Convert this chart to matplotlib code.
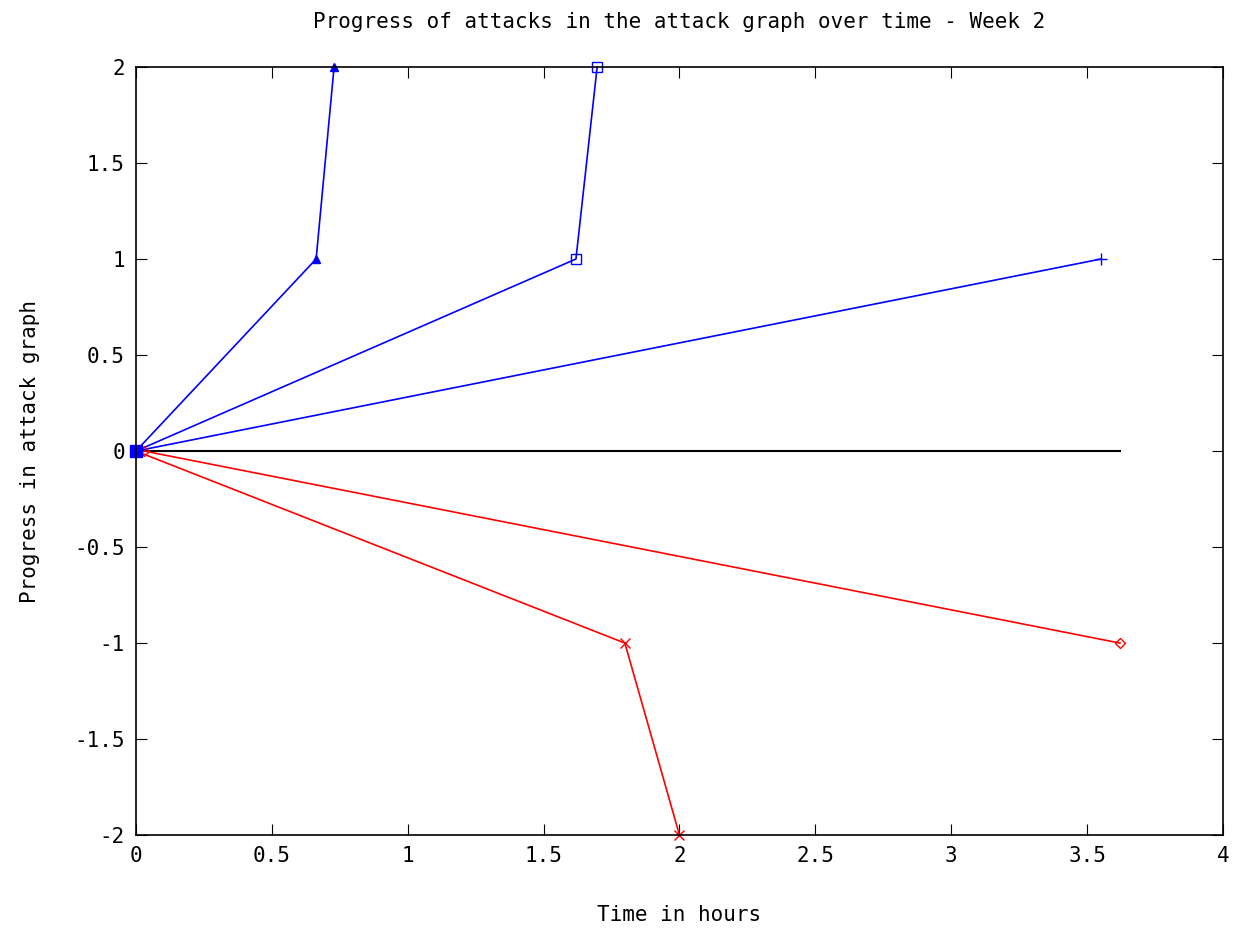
import matplotlib
matplotlib.use("Agg")
import matplotlib.pyplot as plt

plt.rcParams['font.family'] = ['DejaVu Sans Mono']

# Series (time in hours, progress in attack graph)
blue_tri_x = [0.0, 0.663, 0.729]
blue_tri_y = [0, 1, 2]
blue_sq_x = [0.0, 1.619, 1.697]
blue_sq_y = [0, 1, 2]
blue_plus_x = [0.0, 3.551]
blue_plus_y = [0, 1]
black_x = [0.0, 3.621]
black_y = [0, 0]
red_dia_x = [0.03, 3.621]
red_dia_y = [0, -1]
red_x_x = [0.0, 1.799, 2.0]
red_x_y = [0, -1, -2]

xticks = [0, 0.5, 1, 1.5, 2, 2.5, 3, 3.5, 4]
xtick_labels = ['0', '0.5', '1', '1.5', '2', '2.5', '3', '3.5', '4']
yticks = [-2, -1.5, -1, -0.5, 0, 0.5, 1, 1.5, 2]
ytick_labels = ['-2', '-1.5', '-1', '-0.5', '0', '0.5', '1', '1.5', '2']

fig = plt.figure(figsize=(12.36, 9.3), dpi=100)
ax = fig.add_axes([0.110, 0.102, 0.8795, 0.826])

blue = '#0000ff'
red = '#ff0000'
lw = 1.2
ax.plot(black_x, black_y, color='black', lw=1.5)
ax.plot(blue_tri_x, blue_tri_y, color=blue, lw=lw, marker='^', ms=6, clip_on=False)
ax.plot(blue_sq_x, blue_sq_y, color=blue, lw=lw, marker='s', ms=7, mfc='none', clip_on=False)
ax.plot(blue_plus_x, blue_plus_y, color=blue, lw=lw, marker='+', ms=9, clip_on=False)
ax.plot(red_dia_x, red_dia_y, color=red, lw=lw, marker='D', ms=5, mfc='none', clip_on=False)
ax.plot(red_x_x, red_x_y, color=red, lw=lw, marker='x', ms=7, clip_on=False)
ax.plot([0], [0], color=blue, marker='s', ms=8, ls='none', clip_on=False)

ax.set_xlim(0, 4)
ax.set_ylim(-2, 2)
ax.set_xticks(xticks)
ax.set_xticklabels(xtick_labels)
ax.set_yticks(yticks)
ax.set_yticklabels(ytick_labels)
ax.tick_params(direction='in', top=True, right=True, length=8, labelsize=15, pad=8)
for s in ax.spines.values():
    s.set_linewidth(1.2)

ax.set_xlabel('Time in hours', fontsize=15, labelpad=28)
ax.set_ylabel('Progress in attack graph', fontsize=15, labelpad=25)
ax.set_title('Progress of attacks in the attack graph over time - Week 2', fontsize=15, pad=28)

fig.savefig('out.png', dpi=100)
